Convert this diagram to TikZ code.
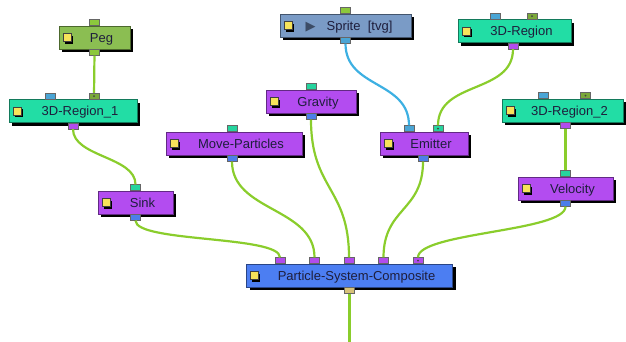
\documentclass[tikz,border=0pt]{standalone}
\usepackage{fontspec}
\setmainfont{Liberation Sans}
\newfontfamily\arrowfont{DejaVu Sans}
\usepackage{xcolor}
\usepackage{tikz}
\usetikzlibrary{positioning, shadows, calc}

\definecolor{pegcol}{HTML}{8BBE52}
\definecolor{regcol}{HTML}{22DDA5}
\definecolor{effcol}{HTML}{B34CF0}
\definecolor{spritecol}{HTML}{7A9BC6}
\definecolor{psccol}{HTML}{4C7EF2}
\definecolor{nodetext}{HTML}{1E1E3C}
\definecolor{tricol}{HTML}{3C4C66}
\definecolor{iconyellow}{HTML}{F7E35A}
\definecolor{wiregreen}{HTML}{8ACD2C}
\definecolor{wireblue}{HTML}{3DB0E2}
\definecolor{portgreen}{HTML}{8CC83C}
\definecolor{portolive}{HTML}{7BA93A}
\definecolor{portsky}{HTML}{4AA5D5}
\definecolor{portpurple}{HTML}{B24CEC}
\definecolor{portteal}{HTML}{26D49E}
\definecolor{portblue}{HTML}{4C7EEA}
\definecolor{porttan}{HTML}{D8C27A}

\begin{document}
\begin{tikzpicture}[
  x=1pt, y=-1pt,
  tool/.style={rectangle, draw=#1!55!black, fill=#1, minimum height=23pt, inner sep=0pt, text=nodetext, font=\fontsize{13}{15}\selectfont, text height=9.3pt, text depth=0pt, execute at begin node={\hspace*{14pt}}, general shadow={fill=black, shadow xshift=3pt, shadow yshift=-3pt}},
  icon/.style={rectangle, draw=black!75, fill=iconyellow, minimum size=8pt, inner sep=0pt, general shadow={fill=black, shadow xshift=2pt, shadow yshift=-2pt}},
  port/.style={rectangle, draw=black!60, fill=#1, minimum width=10pt, minimum height=6pt, inner sep=0pt},
  inport/.style={port=#1, anchor=south},
  outport/.style={port=#1, anchor=north},
  linked/.style={path picture={\fill[black!75] (path picture bounding box.center) circle (1pt);}},
  wire/.style={draw=wiregreen, line width=2.2pt},
  spritewire/.style={draw=wireblue, line width=2.2pt},
]
  \useasboundingbox (0,0) rectangle (626,341);

  \node[tool=pegcol, minimum width=71pt] (peg) at (94.5,37.5) {Peg};
  \node[tool=regcol, minimum width=128pt] (rgA) at (73,111) {3D-Region\_1};
  \node[tool=spritecol, minimum width=131pt] (sprite) at (345.5,25.5) {\hspace*{-7pt}{\arrowfont\fontsize{13}{13}\selectfont\textcolor{tricol}{▶}}\hspace{11pt}Sprite\ \ [tvg]};
  \node[tool=regcol, minimum width=113pt] (rgB) at (514.5,31) {3D-Region};
  \node[tool=effcol, minimum width=90pt] (grav) at (311,101.5) {Gravity};
  \node[tool=regcol, minimum width=121pt] (rgC) at (562.5,110.5) {3D-Region\_2};
  \node[tool=effcol, minimum width=136pt] (move) at (234,143.5) {Move-Particles};
  \node[tool=effcol, minimum width=88pt] (emit) at (424,143.5) {Emitter};
  \node[tool=effcol, minimum width=95pt] (velo) at (565.5,188.5) {Velocity};
  \node[tool=effcol, minimum width=75pt] (sink) at (135.5,202.5) {Sink};
  \node[tool=psccol, minimum width=206pt] (psc) at (349.5,275.5) {Particle-System-Composite};

  \foreach \n in {peg, rgA, sprite, rgB, grav, rgC, move, emit, velo, sink, psc}
    \node[icon] (\n-icon) at ([xshift=8pt]\n.west) {};

  \node[inport=portgreen] (peg-in) at (peg.north) {};
  \node[outport=portgreen] (peg-out) at (peg.south) {};
  \node[inport=portsky] (rgA-in1) at ([xshift=-23pt]rgA.north) {};
  \node[inport=portolive, linked] (rgA-in2) at ([xshift=21pt]rgA.north) {};
  \node[outport=portpurple] (rgA-out) at (rgA.south) {};
  \node[inport=portgreen] (sprite-in) at (sprite.north) {};
  \node[outport=portsky] (sprite-out) at (sprite.south) {};
  \node[inport=portsky] (rgB-in1) at ([xshift=-19.5pt]rgB.north) {};
  \node[inport=portolive, linked] (rgB-in2) at ([xshift=17.5pt]rgB.north) {};
  \node[outport=portpurple] (rgB-out) at ([xshift=-1.5pt]rgB.south) {};
  \node[inport=portteal] (grav-in) at (grav.north) {};
  \node[outport=portblue] (grav-out) at (grav.south) {};
  \node[inport=portsky] (rgC-in1) at ([xshift=-19.5pt]rgC.north) {};
  \node[inport=portolive, linked] (rgC-in2) at ([xshift=23pt]rgC.north) {};
  \node[outport=portpurple] (rgC-out) at ([xshift=3pt]rgC.south) {};
  \node[inport=portteal] (move-in) at ([xshift=-2pt]move.north) {};
  \node[outport=portblue] (move-out) at ([xshift=-2pt]move.south) {};
  \node[inport=portsky] (emit-in1) at ([xshift=-15pt]emit.north) {};
  \node[inport=portteal, linked] (emit-in2) at ([xshift=14pt]emit.north) {};
  \node[outport=portblue] (emit-out) at ([xshift=-1pt]emit.south) {};
  \node[inport=portteal] (velo-in) at (velo.north) {};
  \node[outport=portblue] (velo-out) at (velo.south) {};
  \node[inport=portteal] (sink-in) at (sink.north) {};
  \node[outport=portblue] (sink-out) at (sink.south) {};
  \foreach \i/\dx in {1/-69.5, 2/-35, 3/-0.5, 4/34}
    \node[inport=portpurple] (psc-in\i) at ([xshift=\dx pt]psc.north) {};
  \node[inport=portpurple, linked] (psc-in5) at ([xshift=68.5pt]psc.north) {};
  \node[outport=porttan] (psc-out) at (psc.south) {};
  \coordinate (psc-end) at (349.5,345);

  \draw[wire] (peg-out) -- (rgA-in2);
  \draw[wire] (rgA-out.south) .. controls +(0,28) and +(0,-28) .. (sink-in.north);
  \draw[spritewire] (sprite-out.south) .. controls +(0,45) and +(0,-45) .. (emit-in1.north);
  \draw[wire] (rgB-out.south) .. controls +(0,45) and +(0,-45) .. (emit-in2.north);
  \draw[wire] (rgC-out) -- (velo-in);
  \draw[wire] (sink-out.south) .. controls +(0,22) and +(0,-22) .. (psc-in1.north);
  \draw[wire] (move-out.south) .. controls +(0,50) and +(0,-50) .. (psc-in2.north);
  \draw[wire] (grav-out.south) .. controls +(0,70) and +(0,-70) .. (psc-in3.north);
  \draw[wire] (emit-out.south) .. controls +(0,50) and +(0,-50) .. (psc-in4.north);
  \draw[wire] (velo-out.south) .. controls +(0,25) and +(0,-25) .. (psc-in5.north);
  \draw[wire] (psc-out) -- (psc-end);
\end{tikzpicture}
\end{document}
